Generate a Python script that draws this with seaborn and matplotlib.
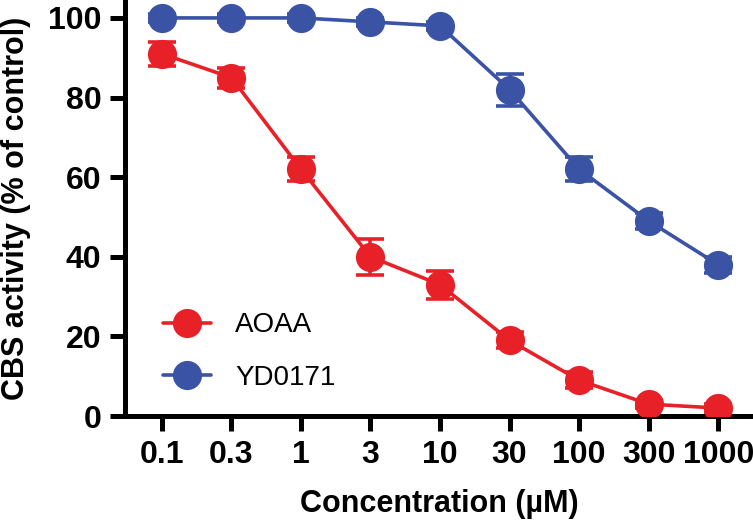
import numpy as np
import pandas as pd
import matplotlib
matplotlib.use("Agg")
import matplotlib.pyplot as plt
import seaborn as sns

# data
concentrations = ["0.1", "0.3", "1", "3", "10", "30", "100", "300", "1000"]
aoaa_mean = [91, 85, 62, 40, 33, 19, 9, 3, 2]
aoaa_err = [3, 2.5, 3, 4.5, 3.5, 2, 2, 1, 1]
yd0171_mean = [100, 100, 100, 99, 98, 82, 62, 49, 38]
yd0171_err = [1, 1, 1, 1, 1, 4, 3, 2, 2]

COLORS = {"AOAA": "#E82128", "YD0171": "#3A53A4"}

sns.set_theme(style="ticks")
plt.rcParams["font.family"] = ["Liberation Sans Narrow", "Liberation Sans", "DejaVu Sans"]
plt.rcParams.update({
    "text.color": "black",
    "axes.labelcolor": "black",
    "xtick.color": "black",
    "ytick.color": "black",
})

rows = []
for name, means in (("AOAA", aoaa_mean), ("YD0171", yd0171_mean)):
    for i, (c, m) in enumerate(zip(concentrations, means)):
        rows.append({"compound": name, "pos": i, "conc": c, "activity": m})
df = pd.DataFrame(rows)

fig = plt.figure(figsize=(7.53, 5.24), dpi=100)
ax = fig.add_axes([0.166, 0.206, 0.834, 0.794])

sns.lineplot(data=df, x="pos", y="activity", hue="compound", palette=COLORS,
             marker="o", markersize=21, markeredgewidth=0, linewidth=2.6,
             ax=ax, zorder=3)

x = np.arange(len(concentrations))
for name, means, errs in (("AOAA", aoaa_mean, aoaa_err),
                          ("YD0171", yd0171_mean, yd0171_err)):
    ax.errorbar(x, means, yerr=errs, fmt="none", ecolor=COLORS[name],
                elinewidth=2.6, capsize=10, capthick=2.6, zorder=4)

ax.set_xlim(-0.53, 8.5)
ax.set_ylim(0, 104.5)
ax.set_xticks(x)
ax.set_xticklabels(concentrations)
ax.set_yticks([0, 20, 40, 60, 80, 100])

for s in ("top", "right"):
    ax.spines[s].set_visible(False)
for s in ("left", "bottom"):
    ax.spines[s].set_linewidth(3.6)
    ax.spines[s].set_color("black")
ax.tick_params(axis="both", length=11, width=3.6, color="black",
               labelsize=23, pad=6)
for lab in ax.get_xticklabels() + ax.get_yticklabels():
    lab.set_fontweight("bold")

ax.set_xlabel("Concentration (µM)", fontsize=22, fontweight="bold", labelpad=14)
ax.set_ylabel("CBS activity (% of control)", fontsize=22, fontweight="bold",
              labelpad=12, family=["Liberation Sans", "DejaVu Sans"])

leg = ax.legend(loc="center left", bbox_to_anchor=(0.06, 0.155), frameon=False,
                handlelength=1.75, handletextpad=0.85,
                labelspacing=0.95, borderaxespad=0, borderpad=0,
                prop={"family": ["Liberation Sans", "DejaVu Sans"], "size": 20})
for h in leg.legend_handles:
    h.set_markersize(21)
    h.set_linewidth(2.6)

fig.savefig("out.png", dpi=100)
